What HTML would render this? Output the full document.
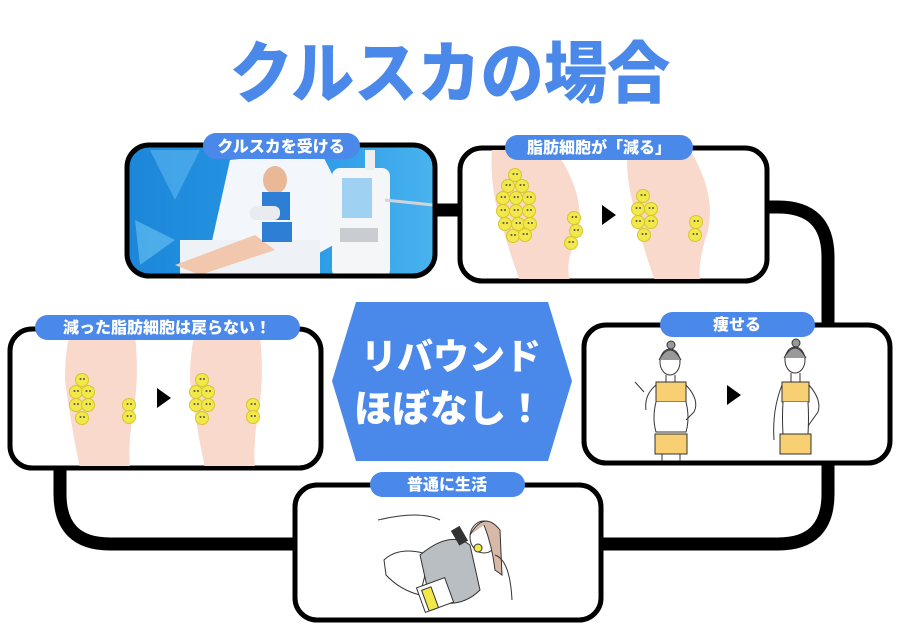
<!DOCTYPE html>
<html><head><meta charset="utf-8"><style>
html,body{margin:0;padding:0;background:#fff;width:900px;height:640px;overflow:hidden}
svg{display:block}
text{font-family:"Liberation Sans","Noto Sans CJK JP",sans-serif;font-weight:900}
</style></head><body>
<svg width="900" height="640" viewBox="0 0 900 640" xmlns="http://www.w3.org/2000/svg">
<defs>
<linearGradient id="bg" x1="0" y1="0" x2="1" y2="0"><stop offset="0" stop-color="#1c86d8"/><stop offset="0.6" stop-color="#2a9be6"/><stop offset="1" stop-color="#4ab3ef"/></linearGradient>
<clipPath id="c1"><rect x="129" y="147" width="304" height="127" rx="20"/></clipPath>
<clipPath id="c2"><rect x="461" y="149" width="305" height="130" rx="20"/></clipPath>
<clipPath id="c3"><rect x="12" y="331" width="307" height="135" rx="20"/></clipPath>
<clipPath id="c4"><rect x="586" y="327" width="302" height="134" rx="20"/></clipPath>
<g id="cell"><circle r="6.5" fill="#f2e84a" stroke="#d6c62c" stroke-width="1"/><circle cx="-1.5" cy="-1" r="1" fill="#555"/><circle cx="2" cy="-1" r="1" fill="#555"/></g>
</defs>

<text x="450" y="96" text-anchor="middle" font-size="62" fill="#4a88ea" transform="translate(450 0) scale(1.02 1.08) translate(-450 -6)">クルスカの場合</text>

<g fill="none" stroke="#000" stroke-width="13">
<line x1="437" y1="210" x2="460" y2="210"/>
<path d="M768 207 H778 Q828 207 828 257 V326"/>
<path d="M828 462 V494 Q828 544 778 544 H600"/>
<path d="M296 544 H110 Q60 544 60 494 V468"/>
</g>

<rect x="127" y="145" width="308" height="131" rx="22" fill="#000"/>
<g clip-path="url(#c1)">
<rect x="125" y="143" width="312" height="135" fill="url(#bg)"/>
<polygon points="150,150 200,150 175,200" fill="#5bb8f0" opacity=".6"/>
<polygon points="135,220 175,240 140,265" fill="#6cc4f3" opacity=".6"/>
<polygon points="230,160 320,150 360,230 280,275 210,250" fill="#f3f6fa"/>
<rect x="180" y="240" width="140" height="38" fill="#eef2f6"/>
<path d="M175 265 L255 235 L275 250 L200 275 Z" fill="#f1c8ad"/>
<ellipse cx="275" cy="180" rx="12" ry="14" fill="#e9b896"/>
<rect x="262" y="192" width="28" height="28" fill="#2d7fd6"/>
<rect x="262" y="222" width="30" height="20" fill="#2d7fd6"/>
<rect x="250" y="206" width="30" height="14" rx="6" fill="#e8ecf1"/>
<rect x="332" y="168" width="58" height="110" rx="8" fill="#f5f6f8"/>
<rect x="342" y="178" width="30" height="40" fill="#9fd2f2"/>
<rect x="340" y="228" width="38" height="14" fill="#c9ccd0"/>
<rect x="365" y="150" width="10" height="20" fill="#eee"/>
<line x1="385" y1="200" x2="433" y2="205" stroke="#d0d4d8" stroke-width="3"/>
</g>
<rect x="127" y="145" width="308" height="131" rx="22" fill="none" stroke="#000" stroke-width="5"/>

<rect x="460" y="148" width="307" height="133" rx="22" fill="#fff" stroke="#000" stroke-width="5"/>
<g clip-path="url(#c2)">
<path d="M492 150 H555 Q590 200 575 240 Q565 265 570 281 H520 Q505 240 495 200 Q490 170 492 150Z" fill="#f8d9cb"/>
<path d="M628 150 H690 Q720 200 705 240 Q698 265 700 281 H655 Q640 240 632 200 Q625 170 628 150Z" fill="#f8d9cb"/>
</g>
<g>
<use href="#cell" x="515" y="175"/><use href="#cell" x="508" y="186"/><use href="#cell" x="522" y="186"/>
<use href="#cell" x="503" y="198"/><use href="#cell" x="516" y="198"/><use href="#cell" x="529" y="198"/>
<use href="#cell" x="503" y="211"/><use href="#cell" x="516" y="211"/><use href="#cell" x="529" y="211"/>
<use href="#cell" x="505" y="224"/><use href="#cell" x="518" y="224"/><use href="#cell" x="530" y="224"/>
<use href="#cell" x="513" y="236"/><use href="#cell" x="525" y="235"/>
<use href="#cell" x="574" y="218"/><use href="#cell" x="576" y="231"/><use href="#cell" x="571" y="243"/>
<use href="#cell" x="643" y="196"/><use href="#cell" x="638" y="209"/><use href="#cell" x="651" y="209"/>
<use href="#cell" x="638" y="222"/><use href="#cell" x="651" y="222"/><use href="#cell" x="644" y="235"/>
<use href="#cell" x="696" y="222"/><use href="#cell" x="695" y="235"/>
</g>
<polygon points="602,205 602,225 616,215" fill="#000"/>

<rect x="10" y="329" width="311" height="139" rx="22" fill="#fff" stroke="#000" stroke-width="5"/>
<g clip-path="url(#c3)">
<path d="M70 335 H135 Q140 380 132 420 Q128 450 130 468 H80 Q70 420 65 380 Q65 350 70 335Z" fill="#f8d9cb"/>
<path d="M195 335 H260 Q265 380 257 420 Q253 450 255 468 H205 Q195 420 190 380 Q190 350 195 335Z" fill="#f8d9cb"/>
</g>
<g>
<use href="#cell" x="82" y="380"/><use href="#cell" x="76" y="392"/><use href="#cell" x="88" y="392"/>
<use href="#cell" x="76" y="405"/><use href="#cell" x="88" y="405"/><use href="#cell" x="82" y="418"/>
<use href="#cell" x="129" y="405"/><use href="#cell" x="129" y="417"/>
<use href="#cell" x="202" y="380"/><use href="#cell" x="196" y="392"/><use href="#cell" x="208" y="392"/>
<use href="#cell" x="196" y="405"/><use href="#cell" x="208" y="405"/><use href="#cell" x="202" y="418"/>
<use href="#cell" x="253" y="405"/><use href="#cell" x="253" y="417"/>
</g>
<polygon points="157,388 157,408 171,398" fill="#000"/>

<rect x="584" y="325" width="306" height="138" rx="22" fill="#fff" stroke="#000" stroke-width="5"/>
<g clip-path="url(#c4)" stroke="#333" stroke-width="1">
<ellipse cx="670" cy="362" rx="10" ry="13" fill="#fff"/><path d="M659 360 Q670 340 681 360" fill="#999"/><circle cx="671" cy="345" r="4" fill="#999"/>
<line x1="666" y1="375" x2="666" y2="382"/><line x1="675" y1="375" x2="675" y2="382"/>
<rect x="656" y="382" width="30" height="20" fill="#f8cf72"/>
<path d="M656 402 Q652 418 656 432 H686 Q690 418 686 402" fill="#fff"/>
<rect x="655" y="434" width="32" height="20" fill="#f8cf72"/>
<path d="M656 385 Q644 395 646 410 M644 392 L635 382" fill="none"/>
<path d="M686 385 Q700 400 694 412 L686 420" fill="none"/>
<line x1="662" y1="454" x2="662" y2="462"/><line x1="680" y1="454" x2="680" y2="462"/>
<ellipse cx="795" cy="360" rx="10" ry="13" fill="#fff"/><path d="M784 358 Q795 338 806 358" fill="#999"/><circle cx="796" cy="343" r="4" fill="#999"/>
<line x1="791" y1="373" x2="791" y2="382"/><line x1="800" y1="373" x2="800" y2="382"/>
<rect x="782" y="382" width="27" height="20" fill="#f8cf72"/>
<path d="M783 402 Q782 418 783 434 H808 Q809 418 808 402" fill="#fff"/>
<rect x="780" y="434" width="31" height="20" fill="#f8cf72"/>
<path d="M782 385 Q772 410 774 440" fill="none"/><path d="M809 385 Q822 400 818 412 L808 426" fill="none"/>
</g>
<polygon points="727,385 727,405 741,395" fill="#000"/>

<rect x="295" y="485" width="306" height="135" rx="22" fill="#fff" stroke="#000" stroke-width="5"/>
<g stroke="#333" stroke-width="1">
<path d="M378 520 Q420 510 440 520" fill="none"/>
<path d="M384 560 Q400 545 430 555 L420 595 Q400 590 386 575Z" fill="#fff"/>
<path d="M420 555 Q450 530 470 545 L480 590 Q460 610 430 600 Z" fill="#b9bec2"/>
<ellipse cx="484" cy="537" rx="14" ry="16" fill="#fff"/>
<path d="M470 535 Q484 510 500 530 L502 575 L495 570 Q492 545 484 525" fill="#d8b9a8"/>
<rect x="455" y="528" width="9" height="16" fill="#333" transform="rotate(-30 459 536)"/>
<circle cx="478" cy="548" r="4" fill="#f2e84a"/>
<rect x="420" y="582" width="30" height="26" fill="#fff" transform="rotate(-20 435 595)"/>
<rect x="424" y="586" width="10" height="22" fill="#f2e84a" transform="rotate(-20 435 595)"/>
<path d="M495 555 Q510 560 512 600" fill="none"/>
</g>

<polygon points="356,302 548,302 572,381 548,461 356,461 332,381" fill="#4a88ea"/>
<text x="451" y="369" text-anchor="middle" font-size="36" fill="#fff">リバウンド</text>
<text x="449" y="422" text-anchor="middle" font-size="38" fill="#fff">ほぼなし！</text>

<g fill="#4a88ea">
<rect x="203" y="133" width="157" height="26" rx="13"/>
<rect x="505" y="135" width="188" height="25" rx="12.5"/>
<rect x="35" y="315" width="265" height="25" rx="12.5"/>
<rect x="660" y="312" width="155" height="25" rx="12.5"/>
<rect x="370" y="472" width="155" height="25" rx="12.5"/>
</g>
<g fill="#fff" font-size="16" text-anchor="middle">
<text x="281" y="152">クルスカを受ける</text>
<text x="599" y="153">脂肪細胞が「減る」</text>
<text x="167" y="333">減った脂肪細胞は戻らない！</text>
<text x="737" y="330">痩せる</text>
<text x="447" y="490">普通に生活</text>
</g>
</svg>
</body></html>
